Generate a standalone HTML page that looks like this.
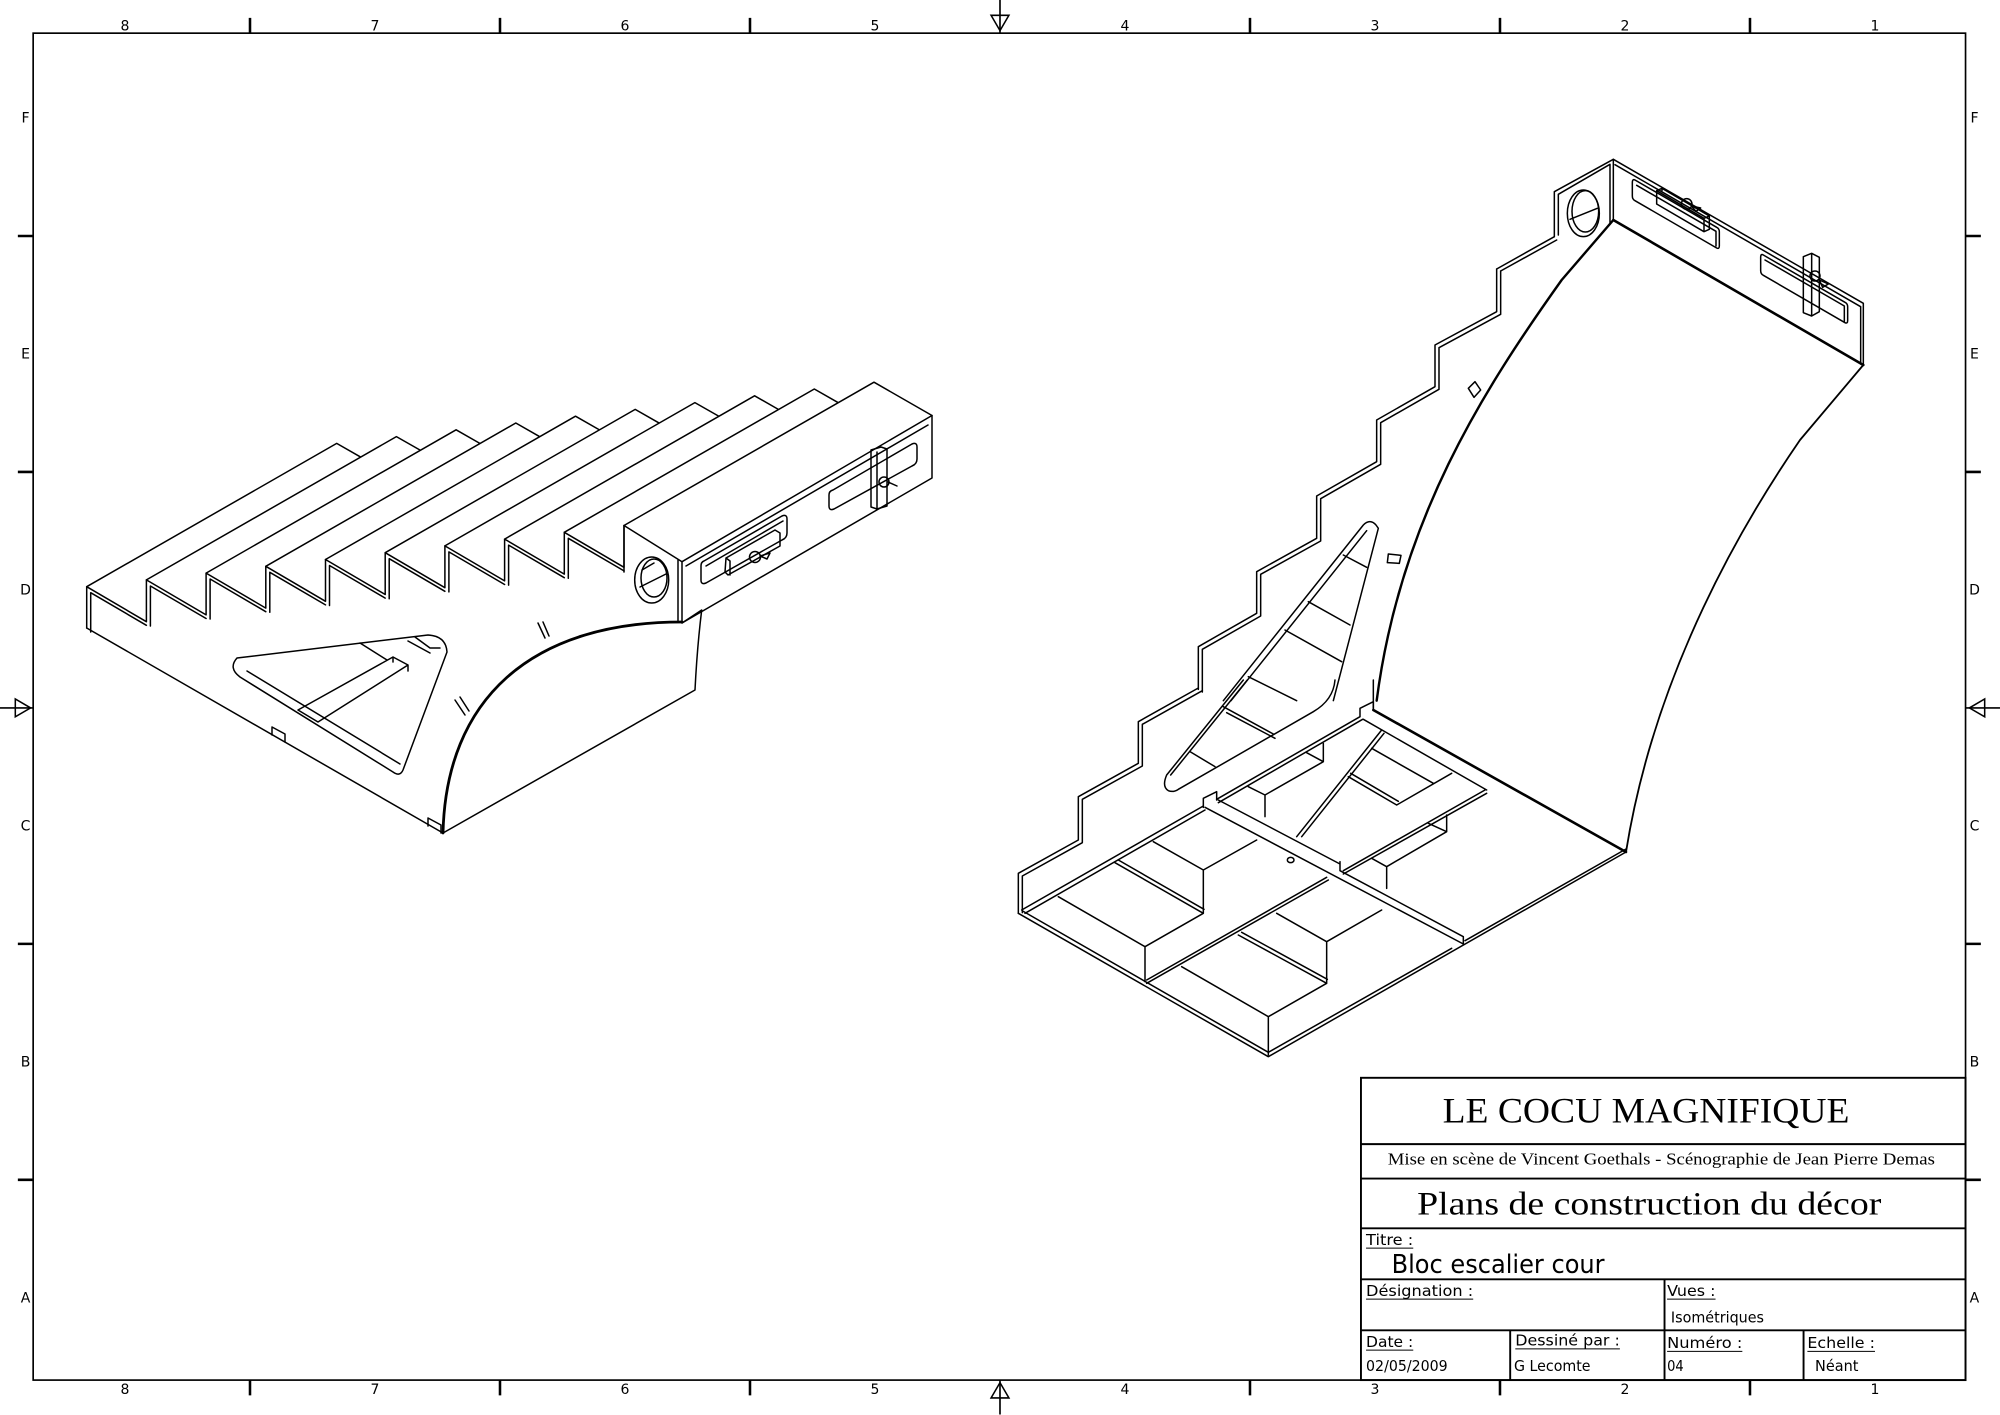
<!DOCTYPE html>
<html><head><meta charset="utf-8"><style>
html,body{margin:0;padding:0;background:#fff;}
svg{display:block;}
.z *{vector-effect:non-scaling-stroke;}
.ln{fill:none;stroke:#000;stroke-width:1.5;stroke-linejoin:round;stroke-linecap:round;}
.th{fill:none;stroke:#000;stroke-width:2.8;}
.lb{font-family:"DejaVu Sans","Liberation Sans",sans-serif;font-size:12px;}
</style></head><body>
<svg width="2000" height="1415" viewBox="0 0 2000 1415" xmlns="http://www.w3.org/2000/svg">
<rect width="2000" height="1415" fill="#fff"/>

<!-- FRAME & TITLE BLOCK in 1568-space -->
<g transform="scale(1.2755)">
 <rect x="26" y="26" width="1515" height="1056" fill="none" stroke="#000" stroke-width="1.3"/>
 <g stroke="#000" stroke-width="2" fill="none">
  <path d="M196,14V26M392,14V26M588,14V26M980,14V26M1176,14V26M1372,14V26"/>
  <path d="M196,1082V1094M392,1082V1094M588,1082V1094M980,1082V1094M1176,1082V1094M1372,1082V1094"/>
  <path d="M14,185H26M14,370H26M14,740H26M14,925H26"/>
  <path d="M1541,185H1553M1541,370H1553M1541,740H1553M1541,925H1553"/>
  <path d="M784,0V26M784,1082V1109M0,555H26M1541,555H1568" stroke-width="1.3"/>
  <path d="M777,12L791,12L784,24Z M777,1096L791,1096L784,1084Z M12,548L12,562L24,555Z M1556,548L1556,562L1544,555Z" stroke-width="1.2"/>
 </g>
 <g font-family="'DejaVu Sans','Liberation Sans',sans-serif" font-size="11" text-anchor="middle">
  <text x="98" y="24">8</text><text x="294" y="24">7</text><text x="490" y="24">6</text><text x="686" y="24">5</text>
  <text x="882" y="24">4</text><text x="1078" y="24">3</text><text x="1274" y="24">2</text><text x="1470" y="24">1</text>
  <text x="98" y="1093">8</text><text x="294" y="1093">7</text><text x="490" y="1093">6</text><text x="686" y="1093">5</text>
  <text x="882" y="1093">4</text><text x="1078" y="1093">3</text><text x="1274" y="1093">2</text><text x="1470" y="1093">1</text>
  <text x="20" y="96">F</text><text x="20" y="281">E</text><text x="20" y="466">D</text><text x="20" y="651">C</text><text x="20" y="836">B</text><text x="20" y="1021">A</text>
  <text x="1548" y="96">F</text><text x="1548" y="281">E</text><text x="1548" y="466">D</text><text x="1548" y="651">C</text><text x="1548" y="836">B</text><text x="1548" y="1021">A</text>
 </g>
 <!-- title block -->
 <g stroke="#000" stroke-width="1.5" fill="none">
  <rect x="1067" y="845" width="474" height="237"/>
  <path d="M1067,897H1541M1067,924H1541M1067,963H1541M1067,1003H1541M1067,1043H1541"/>
  <path d="M1305,1003V1082M1184,1043V1082M1414,1043V1082"/>
 </g>
 <g font-family="'Liberation Serif',serif" text-anchor="start">
  <text x="1131" y="880" font-size="28" textLength="319" lengthAdjust="spacingAndGlyphs">LE COCU MAGNIFIQUE</text>
  <text x="1088" y="913" font-size="13.5" textLength="429" lengthAdjust="spacingAndGlyphs">Mise en scène de Vincent Goethals - Scénographie de Jean Pierre Demas</text>
  <text x="1111" y="952" font-size="26" textLength="364" lengthAdjust="spacingAndGlyphs">Plans de construction du décor</text>
 </g>
 <g class="lb">
  <text x="1071" y="976" textLength="37" lengthAdjust="spacingAndGlyphs">Titre :</text>
  <text x="1091" y="998" font-size="20" textLength="167" lengthAdjust="spacingAndGlyphs">Bloc escalier cour</text>
  <text x="1071" y="1016" textLength="84" lengthAdjust="spacingAndGlyphs">Désignation :</text>
  <text x="1307" y="1016" textLength="38" lengthAdjust="spacingAndGlyphs">Vues :</text>
  <text x="1310" y="1037" textLength="73" lengthAdjust="spacingAndGlyphs">Isométriques</text>
  <text x="1071" y="1056" textLength="37" lengthAdjust="spacingAndGlyphs">Date :</text>
  <text x="1071" y="1075" textLength="64" lengthAdjust="spacingAndGlyphs">02/05/2009</text>
  <text x="1188" y="1055" textLength="82" lengthAdjust="spacingAndGlyphs">Dessiné par :</text>
  <text x="1187" y="1075" textLength="60" lengthAdjust="spacingAndGlyphs">G Lecomte</text>
  <text x="1307" y="1057" textLength="59" lengthAdjust="spacingAndGlyphs">Numéro :</text>
  <text x="1307" y="1075" textLength="13" lengthAdjust="spacingAndGlyphs">04</text>
  <text x="1417" y="1057" textLength="53" lengthAdjust="spacingAndGlyphs">Echelle :</text>
  <text x="1423" y="1075" textLength="34" lengthAdjust="spacingAndGlyphs">Néant</text>
 </g>
 <g stroke="#000" stroke-width="0.8">
  <path d="M1071,978.5H1108M1071,1018.5H1155M1307,1018.5H1345M1071,1058.5H1108M1188,1057.5H1270M1307,1059.5H1366M1417,1059.5H1470"/>
 </g>
</g>

<!-- LEFT DRAWING (2000 coords) -->
<g class="ln">
 <!-- sawtooth front profile -->
 <polyline points="86.7,628 86.7,586.7 146.4,621.7 146.4,579.9 206.1,614.9 206.1,573.1 265.8,608.1 265.8,566.3 325.5,601.3 325.5,559.5 385.2,594.5 385.2,552.7 444.9,587.7 444.9,545.9 504.6,580.9 504.6,539.1 564.3,574.1 564.3,532.3 624,567.3 624,525.5"/>
 <polyline points="90.7,632 90.7,592.7 146.4,625.3 M0,0" />
 <path d="M150.4,626 V586 L206.1,618.5 M210.1,619 V579 L265.8,611.7 M269.8,612.3 V572.3 L325.5,604.9 M329.5,605.5 V565.5 L385.2,598.1 M389.2,598.7 V558.7 L444.9,591.3 M448.9,591.9 V551.9 L504.6,584.5 M508.6,585.1 V545.1 L564.3,577.7 M568.3,578.3 V538.3 L624,570.9"/>
 <!-- nosing lines and back edges -->
 <path d="M86.7,586.7 L336.7,443.4 L360,456.7
 M146.4,579.9 L396.4,436.6 L419.7,449.9
 M206.1,573.1 L456.1,429.8 L479.4,443.1
 M265.8,566.3 L515.8,423 L539.1,436.3
 M325.5,559.5 L575.5,416.2 L598.8,429.5
 M385.2,552.7 L635.2,409.4 L658.5,422.7
 M444.9,545.9 L694.9,402.6 L718.2,415.9
 M504.6,539.1 L754.6,395.8 L777.9,409.1
 M564.3,532.3 L814.3,389 L837.6,402.3"/>
 <!-- box -->
 <path d="M624,525.5 L874,382.2 L932,415.5 L682,561.7 Z"/>
 <path d="M682,561.7 V623 L932,478 V415.5"/>
 <path d="M678,560 V622 M624,525.5 V572"/>
 <path d="M686,566 L928,425"/>
 <ellipse cx="651.7" cy="580" rx="17" ry="23"/>
 <ellipse cx="654" cy="578" rx="13" ry="19"/>
 <path d="M640,587 L666,574 M642,570 L654,563"/>
 <!-- slot 1 -->
 <path d="M704,561 L782,516 Q787,514 787,519 L787,533 Q787,538 782,540 L706,583 Q701,585 701,580 L701,566 Q701,562 704,561 Z"/>
 <path d="M706,566 L783,521"/>
 <path d="M726,558 L775,530 L780,533 L780,546 L728,575 L725,572 Z M726,558 L730,561 L730,575"/>
 <circle cx="755" cy="557" r="5.5"/>
 <path d="M760,556 L770,553 L767,559 Z"/>
 <!-- slot 2 -->
 <path d="M833,490 L912,444 Q917,442 917,447 L917,459 Q917,464 912,466 L834,509 Q829,511 829,506 L829,495 Q829,491 833,490 Z"/>
 <path d="M871,450 L881,447 L887,449 L887,506 L877,509 L871,507 Z M877,452 V509"/>
 <circle cx="884" cy="482" r="5"/>
 <path d="M888,482 L897,486"/>
 <!-- left face and base -->
 <path d="M86.7,628 L443,833"/>
 <path class="th" d="M443,833 C446,700 530,622 682,622"/>
 <path d="M682,623 L701.7,610 C698,640 696,670 695,690 L443,833"/>
 <!-- triangle cutout -->
 <path d="M240,677 Q228,668 237,658 L428,635 Q446,636 447,652 L403,770 Q400,777 393,772 Z"/>
 <path d="M247,671 L400,764"/>
 <path d="M298,710 L393,657 L408,665 L318,722 M298,710 L318,722 M393,657 L393,662 M408,665 L408,671"/>
 <path d="M360,643 L387,660 M408,641 L430,653 M415,637 L430,648 L440,648"/>
 <!-- tabs -->
 <path d="M272,727 L285,734 L285,742 M272,727 V735"/>
 <path d="M428,818 L441,825 L441,833 M428,818 V826"/>
 <path d="M455,700 L465,715 M460,697 L469,711"/>
 <path d="M538,623 L545,638 M543,622 L549,636"/>
</g>

<!-- RIGHT DRAWING: zoom4 region -->
<g class="z ln" transform="translate(1500,140) scale(0.33333)">
 <path d="M163,290 L163,155 L340,58 L340,240"/>
 <path d="M175,285 L175,163 L330,73 L330,248"/>
 <ellipse cx="250" cy="220" rx="48" ry="70"/>
 <ellipse cx="256" cy="214" rx="40" ry="62"/>
 <path d="M210,238 L292,205"/>
 <path d="M340,58 L1090,490 L1090,675"/>
 <path d="M345,74 L1082,500 L1082,672"/>
 <path d="M340,240 L1090,675" stroke-width="2.6"/>
 <path d="M405,120 L650,262 Q658,266 658,275 L658,318 Q658,328 650,324 L405,182 Q397,178 397,168 L397,128 Q397,116 405,120 Z"/>
 <path d="M410,136 L648,274 L648,318"/>
 <path d="M470,152 L486,145 L628,228 L628,268 L612,275 L470,192 Z M486,145 L486,152 M470,152 L612,235 L628,228 M612,235 L612,275"/>
 <circle cx="560" cy="192" r="16"/>
 <path d="M574,198 L602,204 L588,214 Z"/>
 <path d="M790,345 L1035,487 Q1043,491 1043,500 L1043,542 Q1043,552 1035,548 L790,406 Q782,402 782,392 L782,352 Q782,340 790,345 Z"/>
 <path d="M795,360 L1033,498 L1033,545"/>
 <path d="M910,350 L935,340 L958,352 L958,515 L935,528 L910,518 Z M935,340 V528"/>
 <circle cx="945" cy="408" r="15"/>
 <path d="M958,420 L985,432 L968,442 Z"/>
</g>
<!-- right curve & upper left curve (2000 coords) -->
<g class="ln">
 <path d="M1863.3,365 L1800,440 C1745,520 1655,670 1626,852" stroke-width="1.8"/>
</g>

<!-- RIGHT DRAWING: zoom6 region -->
<g class="z ln" transform="translate(1100,280) scale(0.33333)">
 <polyline points="1190,-33 1190,95 1005,195 1005,320 830,420 830,545 650,648 650,775 470,875 470,1000 295,1100 295,1228"/>
 <polyline points="1202,-27 1202,103 1017,203 1017,328 842,428 842,553 662,656 662,783 482,883 482,1008 307,1108 307,1236"/>
 <path d="M1190,-33 L1363,-130 M1202,-27 L1370,-120"/>
 <path d="M1540,-180 L1385,0 C1150,330 900,720 830,1262" stroke-width="2.4"/>
 <path d="M1105,325 L1125,305 L1142,330 L1122,352 Z"/>
 <path d="M865,822 L903,826 L898,850 L862,848 Z"/>
 <!-- triangle -->
 <path d="M370,1262 L790,735 Q810,715 828,735 L835,745 L700,1262"/>
 <path d="M393,1262 L800,752"/>
 <path d="M730,825 L800,862 M625,965 L750,1035 M555,1050 L725,1145 M445,1190 L590,1262"/>
</g>

<!-- RIGHT DRAWING: zoom5 region -->
<g class="z ln" transform="translate(1000,680) scale(0.33333)">
 <polyline points="595,24 415,125 415,250 235,350 235,480 55,580 55,700"/>
 <polyline points="607,32 427,133 427,258 247,358 247,488 67,588 67,698"/>
 <!-- triangle bottom -->
 <path d="M730,0 L500,285 Q485,320 505,332 Q520,338 535,328 L940,95 Q1000,60 1005,0"/>
 <path d="M742,0 L512,285"/>
 <path d="M670,80 L820,162 M680,98 L825,175 M570,215 L645,260"/>
 <!-- floor frame -->
 <path d="M55,700 L805,1130 L1878,516"/>
 <path d="M68,693 L805,1117 L1355,805 M1395,782 L1878,507"/>
 <path d="M65,690 L610,378 M650,358 L1080,110"/>
 <path d="M75,700 L615,390 M655,368 L1088,118"/>
 <path d="M610,382 L610,355 L650,335 L650,360"/>
 <path d="M1080,108 L1080,85 L1120,65 L1120,90"/>
 <path d="M1120,0 L1120,90"/>
 <path d="M1120,90 L1878,516" stroke-width="2.6"/>
 <path d="M1090,118 L1460,330"/>
 <!-- cross beam -->
 <path d="M615,382 L1390,792 M655,360 L1020,552 M1020,572 L1390,770 M1390,770 L1390,792 M1020,545 L1020,572"/>
 <!-- middle rail -->
 <path d="M440,910 L985,600 M440,900 L980,592 M1030,572 L1455,330 M1030,582 L1460,340"/>
 <!-- lower-left bay -->
 <path d="M175,650 L435,800 L435,905 M435,800 L610,700 L610,570 L770,480 M345,548 L610,700 M355,540 L612,688 M460,485 L610,570"/>
 <!-- lower-right bay -->
 <path d="M545,860 L805,1010 L805,1125 M805,1010 L980,910 L980,785 L1145,690 M715,765 L980,910 M725,757 L982,898 M830,700 L980,785"/>
 <!-- upper bays -->
 <path d="M745,320 L795,345 L970,245 L970,190 M795,345 L795,410 M920,218 L970,245"/>
 <path d="M1115,535 L1160,560 L1340,455 L1340,405 M1160,560 L1160,625 M1285,430 L1340,455"/>
 <path d="M1045,290 L1190,375 L1355,280 M1052,280 L1195,364 M1115,205 L1300,310"/>
 <!-- diagonal brace -->
 <path d="M890,470 L1145,150 M905,470 L1152,160"/>
 <ellipse cx="872" cy="540" rx="10" ry="8"/>
</g>
</svg>
</body></html>
